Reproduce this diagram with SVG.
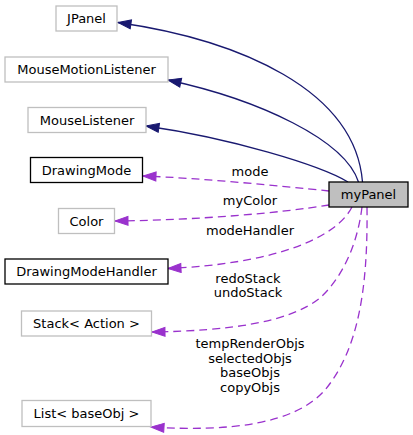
<svg xmlns="http://www.w3.org/2000/svg" width="413" height="435" viewBox="0 0 413 435">
<style>
text{font-family:"DejaVu Sans","Liberation Sans",sans-serif;font-size:13px;fill:#000}
.n text{text-anchor:middle}
.ext rect{fill:#fff;stroke:#bfbfbf;stroke-width:1.3}
.int rect{fill:#fff;stroke:#000;stroke-width:1.3}
.me rect{fill:#bfbfbf;stroke:#000;stroke-width:1.3}
.inh{fill:none;stroke:#191970;stroke-width:1.3;marker-end:url(#ah)}
.use{fill:none;stroke:#9a32cd;stroke-width:1.3;stroke-dasharray:8,5;marker-end:url(#ap)}
.lbl{text-anchor:middle}
</style>
<defs>
<marker id="ah" markerUnits="userSpaceOnUse" markerWidth="15" markerHeight="11" refX="13.5" refY="5" orient="auto" overflow="visible">
<path d="M0.5,0.5 L13.5,5 L0.5,9.5 z" fill="#191970" stroke="#191970" stroke-width="1"/>
</marker>
<marker id="ap" markerUnits="userSpaceOnUse" markerWidth="15" markerHeight="11" refX="13.5" refY="5" orient="auto" overflow="visible">
<path d="M0.5,0.5 L13.5,5 L0.5,9.5 z" fill="#9a32cd" stroke="#9a32cd" stroke-width="1"/>
</marker>
</defs>
<g id="edges">
<path class="inh" d="M362.5,182 C355,90 240,40 118,22.5"/>
<path class="inh" d="M358.5,182 C345,140 260,100 168,80"/>
<path class="inh" d="M348,182 C320,165 230,138 146,126"/>
<path class="use" d="M329,191 C280,186 200,178 143,176"/>
<path class="use" d="M329,205 C280,213 200,220 115,221"/>
<path class="use" d="M352,207 C335,240 270,264 168,268.5"/>
<path class="use" d="M362,207 C358,240 345,275 320,298 C290,322 230,331 152,332"/>
<path class="use" d="M367,207 C368,290 358,350 325,390 C295,424 230,432 151,427"/>
<text class="lbl" x="250" y="176">mode</text>
<text class="lbl" x="250" y="205">myColor</text>
<text class="lbl" x="250" y="235">modeHandler</text>
<text class="lbl" x="248" y="283">redoStack</text>
<text class="lbl" x="248" y="297">undoStack</text>
<text class="lbl" x="250" y="348">tempRenderObjs</text>
<text class="lbl" x="250" y="363">selectedObjs</text>
<text class="lbl" x="250" y="377">baseObjs</text>
<text class="lbl" x="250" y="392">copyObjs</text>
</g>
<g id="myPanel" class="n me"><rect x="329" y="182" width="79" height="25"/><text x="368.5" y="199">myPanel</text></g>
<g id="JPanel" class="n ext"><rect x="56" y="6" width="61" height="25"/><text x="86.5" y="23">JPanel</text></g>
<g id="MouseMotionListener" class="n ext"><rect x="5" y="57" width="163" height="25"/><text x="86.5" y="74">MouseMotionListener</text></g>
<g id="MouseListener" class="n ext"><rect x="28" y="107.5" width="118" height="25"/><text x="87" y="124.5">MouseListener</text></g>
<g id="DrawingMode" class="n int"><rect x="30.5" y="157.5" width="112" height="25"/><text x="86.5" y="174.5">DrawingMode</text></g>
<g id="Color" class="n ext"><rect x="58.5" y="208.5" width="56" height="25"/><text x="86.5" y="225.5">Color</text></g>
<g id="DrawingModeHandler" class="n int"><rect x="5" y="259" width="163" height="25"/><text x="86.5" y="276">DrawingModeHandler</text></g>
<g id="Stack" class="n ext"><rect x="21.5" y="311" width="130" height="25"/><text x="86.5" y="328">Stack&lt; Action &gt;</text></g>
<g id="List" class="n ext"><rect x="22" y="400.5" width="129" height="26"/><text x="86.5" y="418">List&lt; baseObj &gt;</text></g>
</svg>
